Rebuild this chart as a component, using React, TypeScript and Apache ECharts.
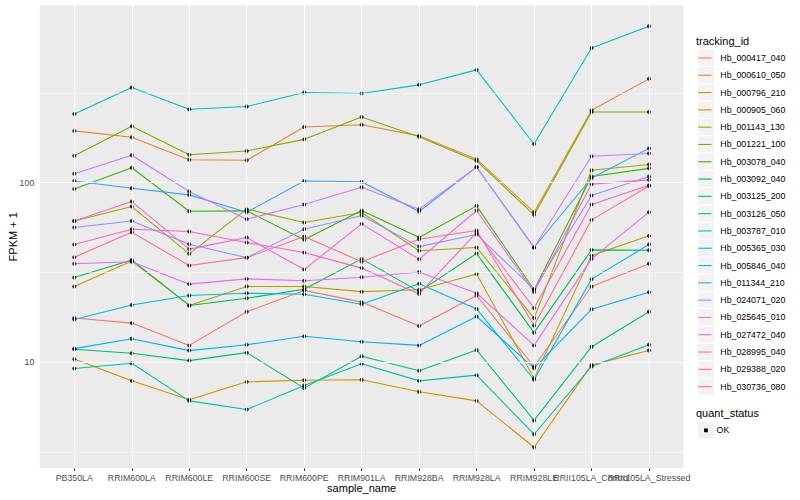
import React, { useEffect, useRef } from "react";
import * as echarts from "echarts";

const sampleNames = [
  "PB350LA", "RRIM600LA", "RRIM600LE", "RRIM600SE", "RRIM600PE", "RRIM901LA",
  "RRIM928BA", "RRIM928LA", "RRIM928LE", "RRII105LA_Control", "RRII105LA_Stressed",
];

const trackingIds = [
  "Hb_000417_040", "Hb_000610_050", "Hb_000796_210", "Hb_000905_060", "Hb_001143_130",
  "Hb_001221_100", "Hb_003078_040", "Hb_003092_040", "Hb_003125_200", "Hb_003126_050",
  "Hb_003787_010", "Hb_005365_030", "Hb_005846_040", "Hb_011344_210", "Hb_024071_020",
  "Hb_025645_010", "Hb_027472_040", "Hb_028995_040", "Hb_029388_020", "Hb_030736_080",
];

const lineColors = [
  "#F8766D", "#EA8331", "#D89000", "#C09B00", "#A3A500", "#7CAE00", "#39B600", "#00BB4E",
  "#00BF7D", "#00C1A3", "#00BFC4", "#00BAE0", "#00B0F6", "#35A2FF", "#9590FF", "#C77CFF",
  "#E76BF3", "#FA62DB", "#FF62BC", "#FF6C91",
];

// FPKM + 1 per sample (order of sampleNames)
const hb000417_040 = [17.6, 16.5, 12.4, 19.1, 25.1, 21.6, 15.9, 23.5, 9.46, 26.4, 35.3];
const hb000610_050 = [194, 179, 134, 133, 204, 210, 182, 135, 68.4, 253, 378];
const hb000796_210 = [10.4, 7.87, 6.17, 7.77, 7.94, 7.98, 6.84, 6.09, 3.36, 9.66, 11.6];
const hb000905_060 = [26.4, 36.6, 20.7, 26.4, 26.4, 24.7, 25.3, 31.0, 8.15, 39.2, 50.5];
const hb001143_130 = [61.1, 73.5, 40.1, 71.1, 59.9, 68.1, 41.7, 43.5, 17.6, 117, 126];
const hb001221_100 = [141, 206, 143, 150, 174, 232, 180, 132, 66.1, 247, 247];
const hb003078_040 = [92.2, 121, 69.2, 69.6, 48.0, 69.9, 49.4, 74.2, 25.3, 108, 120];
const hb003092_040 = [29.6, 37.1, 20.7, 22.7, 25.5, 37.6, 24.7, 40.3, 14.6, 42.2, 42.0];
const hb003125_200 = [11.8, 11.2, 10.2, 11.3, 7.17, 10.8, 8.95, 11.7, 4.74, 12.2, 19.1];
const hb003126_050 = [9.22, 9.87, 6.09, 5.45, 7.42, 9.79, 7.87, 8.47, 3.97, 9.46, 12.5];
const hb003787_010 = [241, 338, 256, 265, 317, 313, 350, 424, 164, 562, 741];
const hb005365_030 = [17.3, 20.8, 23.5, 24.2, 23.9, 21.0, 27.3, 19.8, 7.98, 29.0, 45.2];
const hb005846_040 = [11.9, 13.5, 11.6, 12.5, 13.95, 13.0, 12.4, 17.96, 9.26, 19.7, 24.5];
const hb011344_210 = [102, 93, 85.4, 68.4, 102, 101, 69.0, 122, 43.5, 106, 155];
const hb024071_020 = [56.2, 61.1, 45.4, 38.2, 55.0, 65.5, 44.0, 51.4, 25.5, 84.7, 108];
const hb025645_010 = [112, 142, 89.1, 62.5, 75.4, 94.2, 71.1, 122, 43.5, 140, 145];
const hb027472_040 = [35.3, 36.2, 27.2, 29.1, 28.4, 29.7, 31.8, 24.2, 12.4, 37.6, 68.4];
const hb028995_040 = [61.1, 78.4, 42.6, 49.4, 32.8, 58.9, 37.4, 69.9, 24.6, 98, 103.5];
const hb029388_020 = [45.2, 55.0, 53.4, 46.4, 40.8, 33.4, 24.0, 52.7, 20.0, 75.4, 96.7];
const hb030736_080 = [38.4, 52.9, 34.5, 38.2, 50.1, 36.2, 48.4, 54.1, 16.0, 62.0, 95.8];

const seriesValues = [
  hb000417_040, hb000610_050, hb000796_210, hb000905_060, hb001143_130,
  hb001221_100, hb003078_040, hb003092_040, hb003125_200, hb003126_050,
  hb003787_010, hb005365_030, hb005846_040, hb011344_210, hb024071_020,
  hb025645_010, hb027472_040, hb028995_040, hb029388_020, hb030736_080,
];

const yBreaks = [10, 100];
const yMinorBreaksLog = [0.5, 1.5, 2.5];
const quantStatus = ["OK"];

const FONT = "'Liberation Sans', Arial, Helvetica, sans-serif";

function buildOption() {
  const logData = seriesValues.map((vals) => vals.map((v, i) => [i, Math.log10(v)]));
  const allLogs = logData.flat().map((p) => p[1]);
  const lo = Math.min(...allLogs);
  const hi = Math.max(...allLogs);
  const pad = (hi - lo) * 0.05;
  const yMin = lo - pad;
  const yMax = hi + pad;
  const xMin = -0.6;
  const xMax = sampleNames.length - 1 + 0.6;
  const majorLogs = yBreaks.map((b) => Math.log10(b));
  const xTicks = sampleNames.map((_, i) => i);
  // labels split over two axes so that the overlapping pair is never auto-hidden
  const xLabelsEven = xTicks.filter((i) => i % 2 === 0);
  const xLabelsOdd = xTicks.filter((i) => i % 2 === 1);

  const gridLines = [
    ...xTicks.map((i) => ({ xAxis: i, lineStyle: { color: "#FFFFFF", width: 1.07, type: "solid" } })),
    ...majorLogs.map((v) => ({ yAxis: v, lineStyle: { color: "#FFFFFF", width: 1.07, type: "solid" } })),
    ...yMinorBreaksLog.filter((v) => v > yMin && v < yMax).map((v) => ({ yAxis: v, lineStyle: { color: "#FFFFFF", width: 0.53, type: "solid" } })),
  ];

  const keyX = 697.3;
  const keyTop = 49.3;
  const keySize = 17.3;

  const graphic: any[] = [
    { type: "text", x: 696, y: 40.7, z: 10, style: { text: "tracking_id", fontSize: 11, fill: "#000", fontFamily: FONT, verticalAlign: "middle" } },
    ...trackingIds.map((_, i) => ({
      type: "rect", z: 0,
      shape: { x: keyX, y: keyTop + i * keySize, width: keySize, height: keySize },
      style: { fill: "#F2F2F2", stroke: "#FFFFFF", lineWidth: 1 },
    })),
    { type: "text", x: 696, y: 412.7, z: 10, style: { text: "quant_status", fontSize: 11, fill: "#000", fontFamily: FONT, verticalAlign: "middle" } },
    { type: "rect", z: 0, shape: { x: keyX, y: 421.7, width: keySize, height: keySize }, style: { fill: "#F2F2F2", stroke: "#FFFFFF", lineWidth: 1 } },
    { type: "rect", z: 10, shape: { x: keyX + keySize / 2 - 1.9, y: 421.7 + keySize / 2 - 1.9, width: 3.8, height: 3.8 }, style: { fill: "#000" } },
    { type: "text", x: 716.6, y: 430.3, z: 10, style: { text: quantStatus[0], fontSize: 8.8, fill: "#000", fontFamily: FONT, verticalAlign: "middle" } },
  ];

  const xLabelBase = {
    show: true, interval: 0, margin: 5, fontSize: 8.8, color: "#4D4D4D", fontFamily: FONT,
    formatter: (v: number) => sampleNames[Math.round(v)] ?? "",
    hideOverlap: false,
  };

  return {
    animation: false,
    backgroundColor: "#FFFFFF",
    textStyle: { fontFamily: FONT },
    grid: {
      left: 39.8, right: 116.5, top: 5.3, bottom: 31.7,
      show: true, backgroundColor: "#EBEBEB", borderWidth: 0,
      containLabel: false, outerBoundsMode: "none",
    },
    xAxis: [
      {
        type: "value", min: xMin, max: xMax, position: "bottom",
        name: "sample_name", nameLocation: "middle", nameGap: 14.5, nameMoveOverlap: false,
        nameTextStyle: { fontSize: 11, color: "#000", fontFamily: FONT },
        axisLine: { show: false },
        axisTick: { show: true, customValues: xTicks, length: 2.75, lineStyle: { color: "#333333", width: 1.07 } },
        axisLabel: { ...xLabelBase, customValues: xLabelsEven },
        splitLine: { show: false },
      },
      {
        type: "value", min: xMin, max: xMax, position: "bottom", offset: 0,
        axisLine: { show: false },
        axisTick: { show: false },
        axisLabel: { ...xLabelBase, customValues: xLabelsOdd },
        splitLine: { show: false },
      },
    ],
    yAxis: {
      type: "value", min: yMin, max: yMax,
      name: "FPKM + 1", nameLocation: "middle", nameGap: 21, nameRotate: 90, nameMoveOverlap: false,
      nameTextStyle: { fontSize: 11, color: "#000", fontFamily: FONT },
      axisLine: { show: false },
      axisTick: { show: true, customValues: majorLogs, length: 2.75, lineStyle: { color: "#333333", width: 1.07 } },
      axisLabel: {
        show: true, customValues: majorLogs, margin: 5.5, fontSize: 8.8, color: "#4D4D4D", fontFamily: FONT,
        formatter: (v: number) => String(Math.round(Math.pow(10, v))),
      },
      splitLine: { show: false },
    },
    legend: {
      orient: "vertical", left: keyX, top: keyTop, padding: 0, itemGap: 0,
      itemWidth: 18, itemHeight: keySize,
      icon: "path://M0,0 M18,17.3 M0.9,8.1 L14.3,8.1 L14.3,9.2 L0.9,9.2 Z",
      itemStyle: { borderWidth: 0 },
      data: trackingIds,
      selectedMode: false,
      textStyle: { fontSize: 8.8, color: "#000", fontFamily: FONT },
      z: 5,
    },
    graphic,
    series: [
      {
        type: "line", name: "__grid", data: [[0, majorLogs[0]]], showSymbol: false,
        lineStyle: { width: 0 }, silent: true, z: 1,
        markLine: { silent: true, symbol: ["none", "none"], label: { show: false }, animation: false, data: gridLines },
      },
      ...trackingIds.map((name, k) => ({
        type: "line", name, data: logData[k], showSymbol: false, silent: true, z: 2,
        lineStyle: { color: lineColors[k], width: 1.07 },
        itemStyle: { color: lineColors[k] },
      })),
      {
        type: "scatter", name: quantStatus[0], data: logData.flat(), symbol: "circle", symbolSize: 4,
        itemStyle: { color: "#000000" }, silent: true, z: 3,
      },
    ],
  };
}

export default function App() {
  const ref = useRef<HTMLDivElement>(null);
  useEffect(() => {
    if (!ref.current) return;
    const chart = echarts.init(ref.current, null, { renderer: "svg" });
    chart.setOption(buildOption() as any);
    return () => chart.dispose();
  }, []);
  return <div ref={ref} style={{ position: "absolute", left: 0, top: 0, width: 800, height: 500 }} />;
}
